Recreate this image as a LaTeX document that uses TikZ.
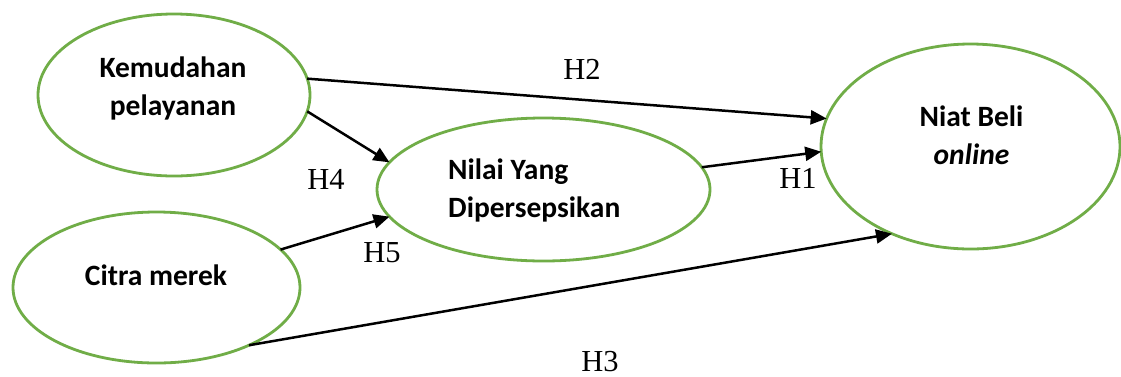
\documentclass[tikz,border=0pt]{standalone}
\usepackage{fontspec}
\setmainfont{Liberation Serif}
\newfontfamily\calfont{Carlito}
\usetikzlibrary{shapes.geometric,arrows.meta}
\definecolor{ovalgreen}{HTML}{70AD47}
\begin{document}
\begin{tikzpicture}[x=1pt,y=-1pt,
  oval/.style={ellipse,draw=ovalgreen,line width=2.8pt,inner sep=0pt,outer sep=0pt},
  lbl/.style={font=\calfont\bfseries\fontsize{29.5}{38.5}\selectfont,inner sep=0pt,anchor=base},
  hyp/.style={font=\fontsize{30.5}{34}\selectfont,inner sep=0pt,anchor=base},
  link/.style={line width=2.5pt,-{Triangle[length=16pt,width=14pt]}}]
\useasboundingbox[fill=white] (0,0) rectangle (1121,376);

% ovals
\node[oval,minimum width=272pt,minimum height=162pt] (kem) at (174,95) {};
\node[oval,minimum width=287pt,minimum height=151pt] (cit) at (156.5,287.5) {};
\node[oval,minimum width=333pt,minimum height=143pt] (nil) at (543.5,189.5) {};
\node[oval,minimum width=299pt,minimum height=205pt] (niat) at (970.5,146.5) {};

% oval texts
\node[lbl] (kemtxt) at (173,77) {\begin{tabular}[t]{@{}c@{}}Kemudahan\\pelayanan\end{tabular}};
\node[lbl] (cittxt) at (156,285) {Citra merek};
\node[lbl,anchor=base west] (niltxt) at (448,179) {\begin{tabular}[t]{@{}l@{}}Nilai Yang\\Dipersepsikan\end{tabular}};
\node[lbl] (niattxt) at (971.5,126) {\begin{tabular}[t]{@{}c@{}}Niat Beli\\\textit{online}\end{tabular}};

% connectors
\draw[link] (kem.7) -- (niat.169);
\draw[link] (kem.-7) -- (nil.170);
\draw[link] (cit.17) -- (nil.190);
\draw[link] (nil.8) -- (niat.182);
\draw[link] (cit.-32) -- (niat.228);

% hypothesis labels
\node[hyp] (h2) at (582,79) {H2};
\node[hyp] (h1) at (798,188) {H1};
\node[hyp] (h4) at (326,189) {H4};
\node[hyp] (h5) at (382,262) {H5};
\node[hyp] (h3) at (600,371) {H3};
\end{tikzpicture}
\end{document}
